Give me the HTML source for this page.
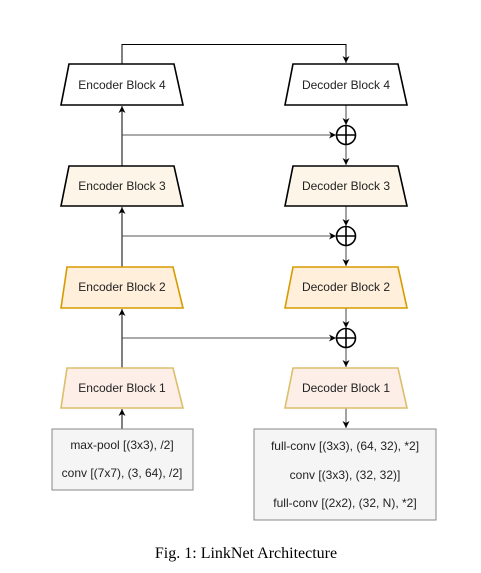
<!DOCTYPE html>
<html><head><style>html,body{margin:0;padding:0;background:#fff}svg{display:block}</style></head>
<body>
<svg width="481" height="573" viewBox="0 0 481 573" xmlns="http://www.w3.org/2000/svg" font-family="Liberation Sans, sans-serif">
<defs>
<marker id="a" markerWidth="8" markerHeight="8" refX="7" refY="4" orient="auto" markerUnits="userSpaceOnUse"><path d="M0,0.5 L7,4 L0,7.5 L2,4 Z" fill="#000"/></marker>
<marker id="g" markerWidth="8" markerHeight="8" refX="7" refY="4" orient="auto" markerUnits="userSpaceOnUse"><path d="M0,0.5 L7,4 L0,7.5 L2,4 Z" fill="#000"/></marker>
</defs>
<polyline points="122,64 122,44.5 346,44.5 346,63" fill="none" stroke="#000" stroke-width="1" marker-end="url(#a)"/>
<line x1="122" y1="166" x2="122" y2="106" stroke="#000" marker-end="url(#a)"/>
<line x1="122" y1="267" x2="122" y2="207" stroke="#000" marker-end="url(#a)"/>
<line x1="122" y1="368" x2="122" y2="309" stroke="#000" marker-end="url(#a)"/>
<line x1="122" y1="429" x2="122" y2="409" stroke="#000" marker-end="url(#a)"/>
<line x1="122" y1="135" x2="336" y2="135" stroke="#555" marker-end="url(#g)"/>
<line x1="122" y1="236" x2="336" y2="236" stroke="#555" marker-end="url(#g)"/>
<line x1="122" y1="338" x2="336" y2="338" stroke="#555" marker-end="url(#g)"/>
<line x1="346" y1="105" x2="346" y2="125" stroke="#444" marker-end="url(#a)"/>
<line x1="346" y1="145" x2="346" y2="165" stroke="#444" marker-end="url(#a)"/>
<line x1="346" y1="206" x2="346" y2="226" stroke="#444" marker-end="url(#a)"/>
<line x1="346" y1="246" x2="346" y2="266" stroke="#444" marker-end="url(#a)"/>
<line x1="346" y1="308" x2="346" y2="328" stroke="#444" marker-end="url(#a)"/>
<line x1="346" y1="348" x2="346" y2="367" stroke="#444" marker-end="url(#a)"/>
<line x1="346" y1="408" x2="346" y2="428" stroke="#444" marker-end="url(#a)"/>
<g fill="#fff" stroke="#000" stroke-width="1.6">
<circle cx="346" cy="135" r="9.5"/><line x1="336.5" y1="135" x2="355.5" y2="135"/><line x1="346" y1="125.5" x2="346" y2="144.5"/>
<circle cx="346" cy="236" r="9.5"/><line x1="336.5" y1="236" x2="355.5" y2="236"/><line x1="346" y1="226.5" x2="346" y2="245.5"/>
<circle cx="346" cy="338" r="9.5"/><line x1="336.5" y1="338" x2="355.5" y2="338"/><line x1="346" y1="328.5" x2="346" y2="347.5"/>
</g>
<g font-size="12" text-anchor="middle" fill="#222">
<polygon points="69,64 174,64 183,105 61,105" fill="#fff" stroke="#000" stroke-width="1.6"/>
<text x="122" y="89">Encoder Block 4</text>
<polygon points="293,64 398,64 407,105 285,105" fill="#fff" stroke="#000" stroke-width="1.6"/>
<text x="346" y="89">Decoder Block 4</text>
<polygon points="69,166 174,166 183,206 61,206" fill="#fdf6e8" stroke="#000" stroke-width="1.6"/>
<text x="122" y="190">Encoder Block 3</text>
<polygon points="293,166 398,166 407,206 285,206" fill="#fdf6e8" stroke="#000" stroke-width="1.6"/>
<text x="346" y="190">Decoder Block 3</text>
<polygon points="67,267 173,267 183,308 61,308" fill="#ffefdb" stroke="#d79b00" stroke-width="1.6"/>
<text x="122" y="291">Encoder Block 2</text>
<polygon points="293,267 398,267 407,308 285,308" fill="#ffefdb" stroke="#d79b00" stroke-width="1.6"/>
<text x="346" y="291">Decoder Block 2</text>
<polygon points="67,368 173,368 183,408 61,408" fill="#fdeee8" stroke="#dcbf6a" stroke-width="1.6"/>
<text x="122" y="392">Encoder Block 1</text>
<polygon points="293,368 398,368 407,408 285,408" fill="#fdeee8" stroke="#dcbf6a" stroke-width="1.6"/>
<text x="346" y="392">Decoder Block 1</text>
</g>
<g font-size="12" text-anchor="middle" fill="#222">
<rect x="52" y="429" width="141" height="61" fill="#f5f5f5" stroke="#888"/>
<text x="122" y="449">max-pool [(3x3), /2]</text>
<text x="122" y="477">conv [(7x7), (3, 64), /2]</text>
<rect x="254" y="429" width="182" height="91" fill="#f5f5f5" stroke="#888"/>
<text x="345" y="450">full-conv [(3x3), (64, 32), *2]</text>
<text x="345" y="479">conv [(3x3), (32, 32)]</text>
<text x="345" y="507">full-conv [(2x2), (32, N), *2]</text>
</g>
<text x="246" y="558" font-family="Liberation Serif, serif" font-size="16" text-anchor="middle" fill="#000">Fig. 1: LinkNet Architecture</text>
</svg>
</body></html>
